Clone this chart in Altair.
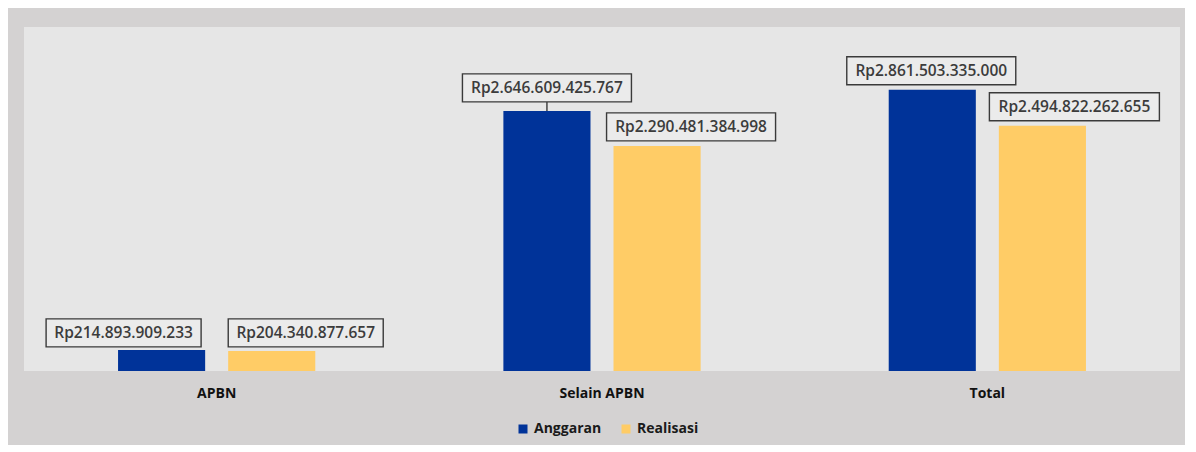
import altair as alt
import pandas as pd

# ---- data ----
categories = ["APBN", "Selain APBN", "Total"]
series = ["Anggaran", "Realisasi"]
anggaran = [214893909233, 2646609425767, 2861503335000]
realisasi = [204340877657, 2290481384998, 2494822262655]


def rp(v):
    return "Rp" + f"{v:,}".replace(",", ".")


rows = []
for i, c in enumerate(categories):
    for s, vals in zip(series, [anggaran, realisasi]):
        rows.append({"kategori": c, "seri": s, "nilai": vals[i], "label": rp(vals[i])})
df = pd.DataFrame(rows)

# ---- styling ----
BLUE = "#003399"
YELLOW = "#FFCC66"
OUTER_BG = "#D4D2D2"
INNER_BG = "#E6E6E6"
BOX_BG = "#EBEBEB"
FONT = "Open Sans"

# label nudges (style): box-centre offset from bar top centre (px), box width, leader line
LABEL_STYLE = {
    ("APBN", "Anggaran"): (-38, -17, 155, False),
    ("APBN", "Realisasi"): (34, -18, 155, False),
    ("Selain APBN", "Anggaran"): (0, -23, 169, True),
    ("Selain APBN", "Realisasi"): (34, -19, 169, False),
    ("Total", "Anggaran"): (-1, -19, 169, False),
    ("Total", "Realisasi"): (32, -19, 170, False),
}
BOX_H = 28
R = 100.0  # custom symbol scale: size = (2R)^2


def box_path(dx, dy, w, leader):
    x0, x1 = (dx - w / 2) / R, (dx + w / 2) / R
    y0, y1 = (dy - BOX_H / 2) / R, (dy + BOX_H / 2) / R
    p = f"M{x0:.4f},{y0:.4f}L{x1:.4f},{y0:.4f}L{x1:.4f},{y1:.4f}L{x0:.4f},{y1:.4f}Z"
    if leader:
        p += f"M0,{y1:.4f}L0,0"
    return p


base = alt.Chart(df).encode(
    x=alt.X(
        "kategori:N",
        sort=categories,
        scale=alt.Scale(paddingInner=0, paddingOuter=0),
        axis=alt.Axis(
            title=None,
            labelAngle=0,
            ticks=False,
            domain=False,
            labelFont=FONT,
            labelFontWeight="bold",
            labelFontSize=14,
            labelColor="#111111",
            labelPadding=15,
        ),
    ),
    xOffset=alt.XOffset(
        "seri:N", sort=series, scale=alt.Scale(paddingInner=0.209, paddingOuter=0.854)
    ),
    y=alt.Y("nilai:Q", scale=alt.Scale(domain=[0, 3.5e12], nice=False), axis=None),
)

bars = base.mark_bar().encode(
    color=alt.Color(
        "seri:N",
        sort=series,
        scale=alt.Scale(domain=series, range=[BLUE, YELLOW]),
        legend=alt.Legend(
            title=None,
            orient="none",
            direction="horizontal",
            legendX=492,
            legendY=395,
            symbolType="square",
            symbolSize=81,
            symbolStrokeWidth=0,
            labelFont=FONT,
            labelFontWeight="bold",
            labelFontSize=14,
            labelColor="#1a1a1a",
            labelOffset=4,
            columnPadding=17,
        ),
    )
)

layers = [bars]
for (cat, ser), (dx, dy, w, leader) in LABEL_STYLE.items():
    filt = (alt.datum.kategori == cat) & (alt.datum.seri == ser)
    box = base.mark_point(
        shape=box_path(dx, dy, w, leader),
        size=(2 * R) ** 2,
        filled=True,
        fill=BOX_BG,
        stroke="#3a3a3a",
        strokeWidth=1.4,
        opacity=1,
    ).transform_filter(filt)
    txt = base.mark_text(
        dx=dx,
        dy=dy,
        align="center",
        baseline="middle",
        font=FONT,
        fontSize=15.5,
        fontWeight=600,
        color="#3c3c3c",
    ).encode(text="label:N").transform_filter(filt)
    layers += [box, txt]

chart = (
    alt.layer(*layers)
    .properties(
        width=1156,
        height=344,
        padding={"left": 16, "top": 19, "right": 5, "bottom": 74},
        autosize=alt.AutoSizeParams(type="none"),
        background=OUTER_BG,
    )
    .configure_view(fill=INNER_BG, stroke=None)
)

chart.save("out.html", embed_options={"renderer": "svg", "actions": False})
